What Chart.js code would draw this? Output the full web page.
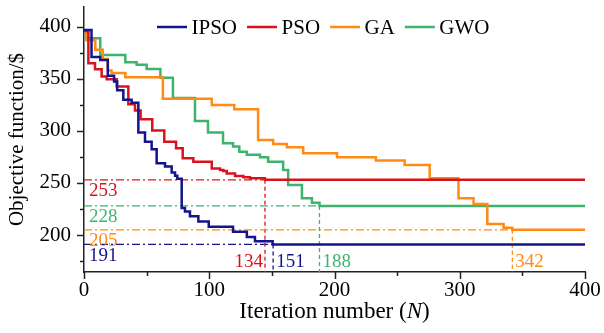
<!DOCTYPE html>
<html>
<head>
<meta charset="utf-8">
<script src="https://cdn.jsdelivr.net/npm/chart.js@4.4.1/dist/chart.umd.min.js"></script>
<style>
  html, body { margin: 0; padding: 0; background: #fff; }
  #wrap { width: 604px; height: 333px; }
</style>
</head>
<body>
<div id="wrap"><canvas id="convChart" width="604" height="333"></canvas></div>
<script>
// each curve: iteration where the cost drops, and the cost after the drop
const ipsoIter = [0, 6, 13, 19, 24, 26.5, 31.4, 38, 43.4, 48.7, 54, 58, 64.7, 70, 72.7, 74.5, 78, 80.6, 84.6, 91.3, 99.6, 119, 130, 136.5, 150.6, 400];
const ipsoCost = [397, 371, 368, 353, 347.5, 339, 330, 327, 298.4, 289.7, 282.4, 269, 265.7, 260, 257, 254, 226, 222.6, 218, 213, 208, 203.2, 198, 194, 191, 191];

const psoIter = [0, 3.5, 8.8, 14.1, 18.1, 26.1, 35.4, 40.7, 45.2, 54.5, 64.1, 73.5, 78.8, 87.3, 102, 108.6, 111.2, 114, 120.6, 127.2, 132.5, 144.5, 400];
const psoCost = [396, 365, 359.3, 352.2, 349.7, 342.6, 325.5, 319.5, 311.2, 300.3, 289.7, 283.3, 273.7, 270.5, 264, 262.5, 261.5, 259, 256.7, 255.5, 254.5, 253, 253];

const gaIter = [0, 2, 9, 15, 19, 22, 33, 63, 102, 120, 139, 151, 162, 175, 202, 233, 256, 276, 299, 311, 322, 335, 342, 400];
const gaCost = [396, 387, 378, 369, 358, 355.5, 351.6, 330.8, 325, 320.8, 291.3, 287.5, 284.3, 278.5, 274.7, 271.5, 267.3, 254.5, 235.3, 229.8, 210.6, 207, 205, 205];

const gwoIter = [0, 2, 13, 33, 42, 50, 61, 71, 88.6, 99, 111, 119, 124, 130, 140.5, 147, 159, 163, 174, 182, 188, 400];
const gwoCost = [396, 389, 373, 366, 363.5, 359.5, 351, 331.5, 309.5, 298.5, 288.2, 285, 280, 277, 274.7, 270.5, 262.5, 248, 235.3, 231, 228, 228];

const seriesNames = ['IPSO', 'PSO', 'GA', 'GWO'];
const seriesColors = ['#14148c', '#d7141e', '#ff8a14', '#3cb46e'];

// converged cost, printed iteration and where the marker sits
const finalCost = [191, 253, 205, 228];
const finalIterText = ['151', '134', '342', '188'];
const finalIterAt = [151, 144.5, 342, 188];

const yTicks = [175, 200, 225, 250, 275, 300, 325, 350, 375, 400];
const xTicks = [0, 50, 100, 150, 200, 250, 300, 350, 400];

const serif = 'Liberation Serif';
const iterLabelSide = ['right', 'left', 'right', 'right'];

function pts(xs, ys) {
  return xs.map((v, i) => ({x: v, y: ys[i]}));
}

const decor = {
  id: 'decor',
  beforeDatasetsDraw(chart) {
    const {ctx, chartArea: a, scales: {x, y}} = chart;
    ctx.save();
    ctx.lineWidth = 1.3;
    finalCost.forEach((v, i) => {
      const px = x.getPixelForValue(finalIterAt[i]);
      const py = y.getPixelForValue(v);
      ctx.strokeStyle = seriesColors[i];
      ctx.setLineDash([8, 3, 2, 3]);
      ctx.beginPath(); ctx.moveTo(a.left, py); ctx.lineTo(px, py); ctx.stroke();
      ctx.setLineDash([4, 3]);
      ctx.beginPath(); ctx.moveTo(px, py); ctx.lineTo(px, a.bottom); ctx.stroke();
    });
    ctx.restore();
  },
  afterDraw(chart) {
    const {ctx, chartArea: a, scales: {x, y}} = chart;
    ctx.save();
    // tick marks, outward, minor ones shorter
    ctx.strokeStyle = '#222';
    ctx.lineWidth = 1.5;
    yTicks.forEach(v => {
      const py = Math.round(y.getPixelForValue(v)) + 0.5;
      const len = v % 50 === 0 ? 7 : 4;
      ctx.beginPath(); ctx.moveTo(a.left - len, py); ctx.lineTo(a.left, py); ctx.stroke();
    });
    xTicks.forEach(v => {
      const px = Math.round(x.getPixelForValue(v)) + 0.5;
      const len = v % 100 === 0 ? 7 : 4;
      ctx.beginPath(); ctx.moveTo(px, a.bottom); ctx.lineTo(px, a.bottom + len); ctx.stroke();
    });

    // converged values / iterations
    ctx.font = '19px "' + serif + '"';
    finalCost.forEach((v, i) => {
      ctx.fillStyle = seriesColors[i];
      ctx.textAlign = 'left';
      ctx.textBaseline = 'top';
      ctx.fillText(String(v), a.left + 5, y.getPixelForValue(v) + 2);
      const px = x.getPixelForValue(finalIterAt[i]);
      ctx.textBaseline = 'middle';
      if (iterLabelSide[i] === 'left') {
        ctx.textAlign = 'right';
        ctx.fillText(finalIterText[i], px - 2, a.bottom - 10);
      } else {
        ctx.textAlign = 'left';
        ctx.fillText(finalIterText[i], px + 3, a.bottom - 10);
      }
    });

    // legend inside the plot
    ctx.font = '21px "' + serif + '"';
    ctx.textAlign = 'left';
    ctx.textBaseline = 'middle';
    let lx = 157;
    const ly = a.top + 20;
    seriesNames.forEach((name, i) => {
      ctx.strokeStyle = seriesColors[i];
      ctx.lineWidth = 2.5;
      ctx.beginPath(); ctx.moveTo(lx, ly); ctx.lineTo(lx + 30, ly); ctx.stroke();
      lx += 34.5;
      ctx.fillStyle = '#000';
      ctx.fillText(name, lx, ly + 1);
      lx += ctx.measureText(name).width + 10;
    });

    // x title with italic N
    const parts = [['Iteration number (', ''], ['N', 'italic '], [')', '']];
    let total = 0;
    parts.forEach(p => { ctx.font = p[1] + '23px "' + serif + '"'; total += ctx.measureText(p[0]).width; });
    let tx = (a.left + a.right) / 2 - total / 2;
    ctx.fillStyle = '#000';
    parts.forEach(p => {
      ctx.font = p[1] + '23px "' + serif + '"';
      ctx.fillText(p[0], tx, 312);
      tx += ctx.measureText(p[0]).width;
    });
    ctx.restore();
  }
};

const allIter = [ipsoIter, psoIter, gaIter, gwoIter];
const allCost = [ipsoCost, psoCost, gaCost, gwoCost];

new Chart(document.getElementById('convChart'), {
  type: 'line',
  data: {
    datasets: seriesNames.map((name, i) => ({
      label: name,
      data: pts(allIter[i], allCost[i]),
      borderColor: seriesColors[i],
      backgroundColor: seriesColors[i],
      borderWidth: 2.5,
      stepped: 'before',
      pointRadius: 0,
      fill: false
    }))
  },
  options: {
    responsive: false,
    animation: false,
    devicePixelRatio: 1,
    layout: { padding: { top: 7, right: 19, left: 0, bottom: 0 } },
    plugins: { legend: { display: false }, tooltip: { enabled: false } },
    scales: {
      x: {
        type: 'linear',
        min: 0,
        max: 400,
        grid: { display: false, drawTicks: false },
        border: { display: true, color: '#222', width: 1.5 },
        afterBuildTicks: s => { s.ticks = xTicks.map(v => ({value: v})); },
        afterFit: s => { s.height = 61; s.paddingLeft = 0; s.paddingRight = 0; },
        ticks: {
          autoSkip: false,
          maxRotation: 0,
          padding: 6,
          color: '#000',
          font: { family: serif, size: 21 },
          callback: v => (v % 100 === 0 ? v : '')
        }
      },
      y: {
        min: 164.5,
        max: 419,
        grid: { display: false, drawTicks: false },
        border: { display: true, color: '#222', width: 1.5 },
        afterBuildTicks: s => { s.ticks = yTicks.map(v => ({value: v})); },
        afterFit: s => { s.width = 84; s.paddingTop = 0; s.paddingBottom = 0; },
        title: {
          display: true,
          text: 'Objective function/$',
          color: '#000',
          font: { family: serif, size: 21 },
          padding: { top: 5, bottom: 0 }
        },
        ticks: {
          autoSkip: false,
          padding: 13,
          color: '#000',
          font: { family: serif, size: 21 },
          callback: v => (v % 50 === 0 ? v : '')
        }
      }
    }
  },
  plugins: [decor]
});
</script>
</body>
</html>
